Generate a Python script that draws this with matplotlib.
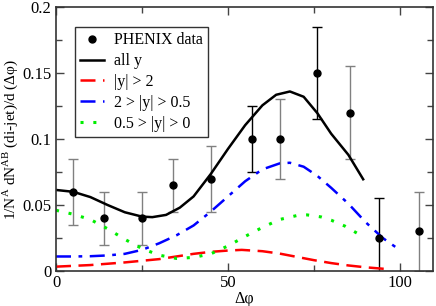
import matplotlib
matplotlib.use("Agg")
import matplotlib.pyplot as plt
from matplotlib.ticker import FixedLocator

plt.rcParams['font.family'] = ['Liberation Serif', 'DejaVu Serif']
plt.rcParams['mathtext.fontset'] = 'custom'
plt.rcParams['mathtext.rm'] = 'Liberation Serif'

# PHENIX data
data_x = [5, 14, 25, 34, 45, 57, 65, 76, 85.5, 94, 105.5]
data_y = [0.060, 0.040, 0.040, 0.065, 0.070, 0.100, 0.100, 0.150, 0.120, 0.025, 0.030]
data_err = [0.025, 0.020, 0.020, 0.020, 0.025, 0.025, 0.030, 0.035, 0.035, 0.030, 0.030]
data_errcolor = ['grey', 'grey', 'grey', 'grey', 'grey', 'black', 'grey', 'black', 'grey', 'black', 'grey']

# all y
all_x = [0, 5, 10, 15, 20, 25, 28, 32, 36, 40, 45, 50, 55, 60, 64, 68, 72, 76, 80, 85, 89.3]
all_y = [0.0614, 0.0600, 0.0560, 0.0500, 0.0445, 0.0412, 0.0408, 0.0425, 0.0480, 0.0565, 0.0735,
         0.0925, 0.1105, 0.1255, 0.1335, 0.1360, 0.1320, 0.1195, 0.1040, 0.0880, 0.0695]

# |y| > 2
r_x = [0, 10, 20, 30, 40, 45, 50, 54, 60, 65, 70, 75, 80, 85, 90, 97]
r_y = [0.0033, 0.0045, 0.0065, 0.0090, 0.0130, 0.0145, 0.0155, 0.0160, 0.0150, 0.0132, 0.0107,
       0.0082, 0.0060, 0.0042, 0.0028, 0.0013]

# 2 > |y| > 0.5
b_x = [0, 5, 10, 15, 20, 25, 30, 35, 40, 45, 50, 55, 60, 65, 68, 72, 76, 80, 85, 90, 95, 99.5]
b_y = [0.0110, 0.0110, 0.0112, 0.0118, 0.0130, 0.0160, 0.0210, 0.0270, 0.0345, 0.0450, 0.0565,
       0.0680, 0.0770, 0.0815, 0.0820, 0.0790, 0.0720, 0.0630, 0.0510, 0.0370, 0.0250, 0.0167]

# 0.5 > |y| > 0
g_x = [0, 5, 10, 15, 20, 25, 30, 35, 40, 45, 50, 55, 60, 65, 70, 73, 77, 80, 84, 88.4]
g_y = [0.0460, 0.0430, 0.0390, 0.0320, 0.0240, 0.0170, 0.0120, 0.0095, 0.0103, 0.0130, 0.0190,
       0.0262, 0.0330, 0.0390, 0.0420, 0.0425, 0.0410, 0.0385, 0.0340, 0.0273]

x_ticks = [0, 50, 100]
x_minor = [25, 75]
y_ticks = [0, 0.05, 0.1, 0.15, 0.2]
y_minor = [0.025, 0.075, 0.125, 0.175]
x_ticklabels = ['0', '50', '100']
y_ticklabels = ['0', '0.05', '0.1', '0.15', '0.2']

fig = plt.figure(figsize=(4.36, 3.06), dpi=100)
ax = fig.add_axes([56/436, 35/306, 377/436, 264/306])

for x, y, e, c in zip(data_x, data_y, data_err, data_errcolor):
    ax.errorbar(x, y, yerr=e, fmt='none', ecolor=c, elinewidth=1.0, capsize=3.5, capthick=1.0, zorder=2)
ax.plot(data_x, data_y, 'o', color='black', markersize=5, linestyle='none', zorder=3,
        label='PHENIX data')

ax.plot(all_x, all_y, '-', color='black', lw=1.8, label='all y')
ax.plot(r_x, r_y, color='red', lw=1.8, dashes=(6, 3), label='|y| > 2')
ax.plot(b_x, b_y, color='blue', lw=1.8, dashes=(6, 3, 1.5, 3), label='2 > |y| > 0.5')
ax.plot(g_x, g_y, color='#00ee00', lw=2.2, dashes=(1, 3.2), label='0.5 > |y| > 0')

ax.set_xlim(0, 109.6)
ax.set_ylim(0, 0.2)
ax.xaxis.set_major_locator(FixedLocator(x_ticks))
ax.xaxis.set_minor_locator(FixedLocator(x_minor))
ax.yaxis.set_major_locator(FixedLocator(y_ticks))
ax.yaxis.set_minor_locator(FixedLocator(y_minor))
ax.set_xticklabels(x_ticklabels)
ax.set_yticklabels(y_ticklabels)
ax.tick_params(which='both', direction='in', top=True, right=True, labelsize=12, color='#444444')
ax.tick_params(which='major', length=6, width=1)
ax.tick_params(which='minor', length=4, width=1)
ax.tick_params(axis='x', pad=3)
for s in ax.spines.values():
    s.set_linewidth(1.2)
    s.set_color('#333333')

ax.set_xlabel('Δφ', fontsize=11.5, labelpad=0)
ax.set_ylabel(r'1/N$^{\mathrm{A}}$ dN$^{\mathrm{AB}}$ (di-jet)/d (Δφ)', fontsize=11, labelpad=1)

leg = ax.legend(loc='upper left', bbox_to_anchor=(0.05, 0.925), fontsize=11.5, frameon=True,
                fancybox=False, edgecolor='black', handlelength=1.5, handletextpad=0.6,
                borderpad=0.35, labelspacing=0.3, borderaxespad=0)
leg.get_frame().set_linewidth(1.0)

fig.savefig('out.png', dpi=100)
